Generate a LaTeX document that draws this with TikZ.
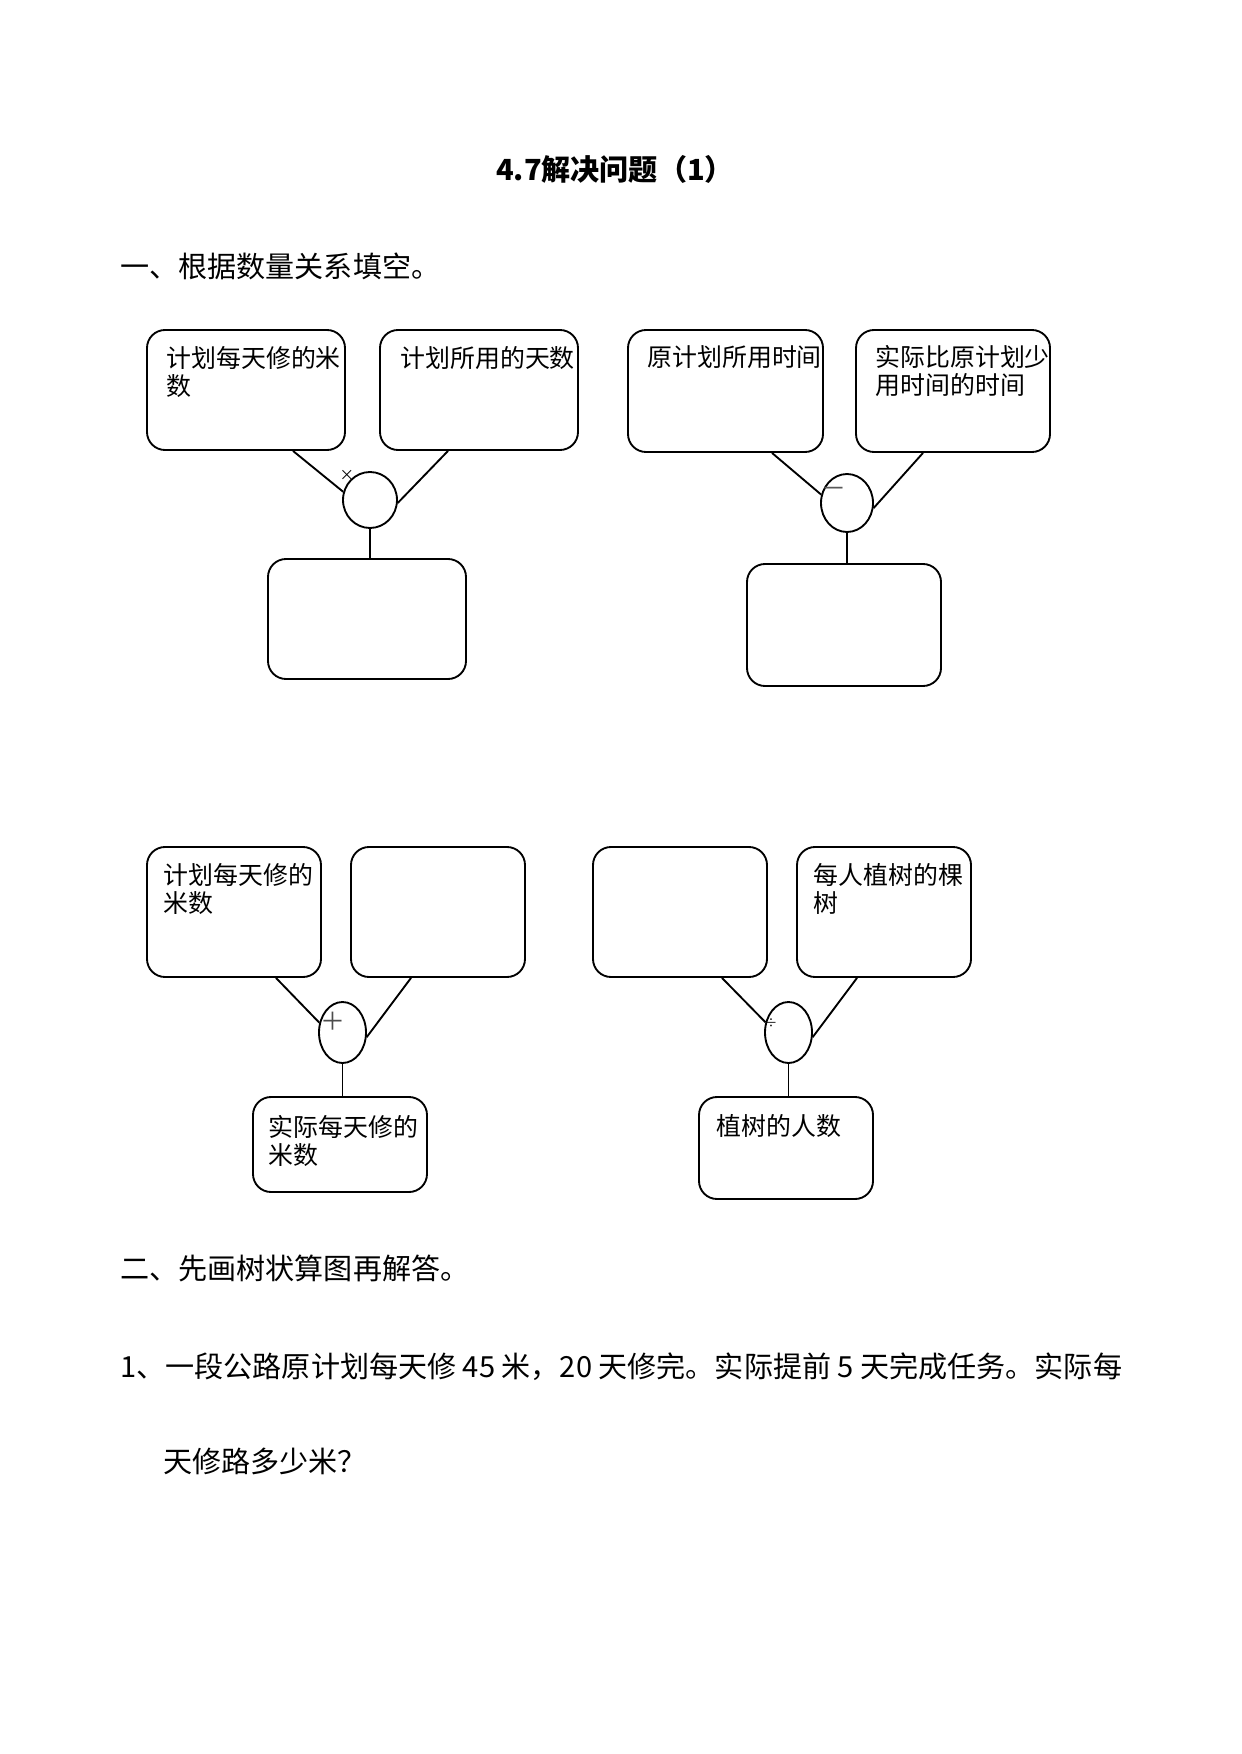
\documentclass[tikz,border=0pt]{standalone}
\usepackage{fontspec}
\setmainfont{Noto Sans CJK SC}
\usetikzlibrary{shapes.geometric}
\newlength\pxu
\setlength\pxu{0.16922mm}
\begin{document}
\begin{tikzpicture}[x=\pxu,y=-\pxu,
  box/.style={draw, rounded corners=18\pxu, line width=0.9pt, inner sep=0pt},
  opnode/.style={draw, ellipse, line width=0.9pt, inner sep=0pt},
  conn/.style={line width=0.9pt},
  lbl/.style={inner sep=0pt, align=left, anchor=north west, font=\fontsize{12}{13.5}\selectfont},
  head/.style={inner sep=0pt, anchor=base west, font=\fontsize{14}{16}\selectfont},
  sym/.style={inner sep=0pt}]
\useasboundingbox (0,0) rectangle (1241,1754);

% page texts
\node[inner sep=0pt, anchor=base, font=\fontsize{14}{16}\selectfont\bfseries] (title) at (615,181) {4.7解决问题（1）};
\node[head] (sec1) at (120,278) {一、根据数量关系填空。};
\node[head] (sec2) at (120,1279) {二、先画树状算图再解答。};
\node[head] (q1a) at (120,1377) {1、一段公路原计划每天修 45 米，20 天修完。实际提前 5 天完成任务。实际每};
\node[head] (q1b) at (163,1472) {天修路多少米？};

% diagram 1
\node[box, minimum width=198\pxu, minimum height=120\pxu] (A1) at (246,390) {};
\node[box, minimum width=198\pxu, minimum height=120\pxu] (A2) at (479,390) {};
\node[box, minimum width=198\pxu, minimum height=120\pxu] (A3) at (367,619) {};
\node[opnode, minimum width=54\pxu, minimum height=56\pxu] (K1) at (370,500) {};
\draw[conn] ([xshift=47\pxu]A1.south) -- (K1.163);
\draw[conn] ([xshift=-31\pxu]A2.south) -- (K1.-6);
\draw[conn] (K1.south) -- (K1.south |- A3.north);
\node[lbl] (tA1) at (166,346) {计划每天修的米\\数};
\node[lbl] (tA2) at (400,346) {计划所用的天数};
\node[sym, font=\fontsize{7}{8}\selectfont] (s1) at (347,475) {×};

% diagram 2
\node[box, minimum width=195\pxu, minimum height=122\pxu] (B1) at (725.5,391) {};
\node[box, minimum width=194\pxu, minimum height=122\pxu] (B2) at (953,391) {};
\node[box, minimum width=194\pxu, minimum height=122\pxu] (B3) at (844,625) {};
\node[opnode, minimum width=52\pxu, minimum height=58\pxu] (K2) at (847,503) {};
\draw[conn] ([xshift=46.5\pxu]B1.south) -- (K2.162);
\draw[conn] ([xshift=-30\pxu]B2.south) -- (K2.-11);
\draw[conn] (K2.south) -- (K2.south |- B3.north);
\node[lbl] (tB1) at (647,345) {原计划所用时间};
\node[lbl] (tB2) at (875,345) {实际比原计划少\\用时间的时间};
\node[sym, font=\fontsize{12}{13}\selectfont, text=black!65] (s2) at (834,492) {－};

% diagram 3
\node[box, minimum width=174\pxu, minimum height=130\pxu] (C1) at (234,912) {};
\node[box, minimum width=174\pxu, minimum height=130\pxu] (C2) at (438,912) {};
\node[box, minimum width=174\pxu, minimum height=95\pxu] (C3) at (340,1144.5) {};
\node[opnode, minimum width=47\pxu, minimum height=61\pxu] (K3) at (342.5,1032.5) {};
\draw[conn] ([xshift=42\pxu]C1.south) -- (K3.157);
\draw[conn] ([xshift=-27\pxu]C2.south) -- (K3.-11);
\draw[conn] (K3.south) -- (K3.south |- C3.north);
\node[lbl] (tC1) at (163,863) {计划每天修的\\米数};
\node[lbl] (tC3) at (268,1115) {实际每天修的\\米数};
\node[sym, font=\fontsize{12}{13}\selectfont, text=black!70] (s3) at (333,1021) {＋};

% diagram 4
\node[box, minimum width=174\pxu, minimum height=130\pxu] (D1) at (680,912) {};
\node[box, minimum width=174\pxu, minimum height=130\pxu] (D2) at (884,912) {};
\node[box, minimum width=174\pxu, minimum height=102\pxu] (D3) at (786,1148) {};
\node[opnode, minimum width=47\pxu, minimum height=61\pxu] (K4) at (788.5,1032.5) {};
\draw[conn] ([xshift=42\pxu]D1.south) -- (K4.156);
\draw[conn] ([xshift=-27\pxu]D2.south) -- (K4.-11);
\draw[conn] (K4.south) -- (K4.south |- D3.north);
\node[lbl] (tD2) at (813,863) {每人植树的棵\\树};
\node[lbl] (tD3) at (716,1114) {植树的人数};
\node[sym, font=\fontsize{6}{7}\selectfont] (s4) at (771,1023) {÷};
\end{tikzpicture}
\end{document}
